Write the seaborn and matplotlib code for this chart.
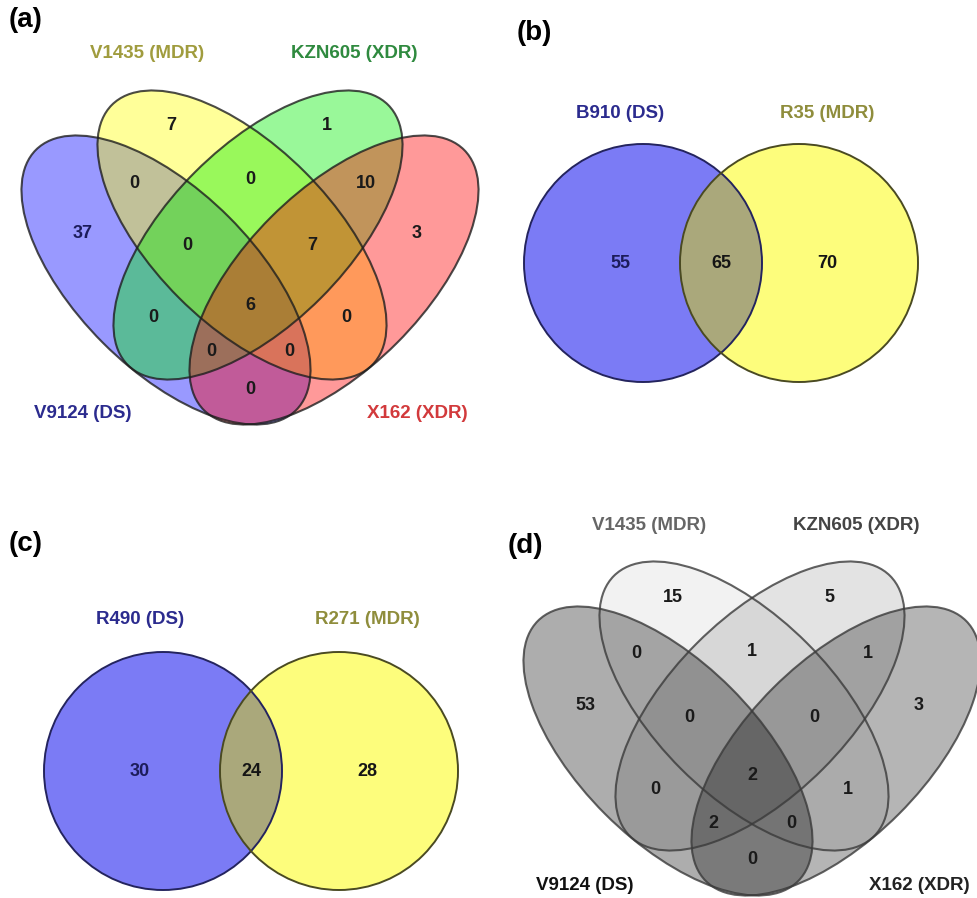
import matplotlib
matplotlib.use("Agg")
import matplotlib.pyplot as plt
from matplotlib.patches import Ellipse, Circle
import seaborn as sns

# ---- data -------------------------------------------------------------
# region keys for the 4-set diagrams: B=V9124, Y=V1435, G=KZN605, R=X162
quad_regions = ["B", "Y", "G", "R", "BY", "YG", "GR", "BYG", "YGR",
                "BYGR", "BG", "YR", "BGR", "BYR", "BR"]
quad_names = {"B": "V9124 (DS)", "Y": "V1435 (MDR)",
              "G": "KZN605 (XDR)", "R": "X162 (XDR)"}
quad_counts_a = [37, 7, 1, 3, 0, 0, 10, 0, 7, 6, 0, 0, 0, 0, 0]
quad_counts_d = [53, 15, 5, 3, 0, 1, 1, 0, 0, 2, 0, 1, 2, 0, 0]

# 2-set diagrams: [left only, both, right only]
pair_names_b = ["B910 (DS)", "R35 (MDR)"]
pair_counts_b = [55, 65, 70]
pair_names_c = ["R490 (DS)", "R271 (MDR)"]
pair_counts_c = [30, 24, 28]

# ---- layout (pixel space of the 977x898 figure) -----------------------
W, H = 977, 898
ELL_W, ELL_H = 368, 178
ell_geom = {"B": (166, 280, 45), "Y": (242, 235, 45),
            "G": (258, 235, -45), "R": (334, 280, -45)}
region_xy = {"B": (83, 234), "Y": (171, 126), "G": (327, 126), "R": (417, 234),
             "BY": (134, 183), "YG": (250, 180), "GR": (366, 183),
             "BYG": (187, 246), "YGR": (312, 246), "BYGR": (250, 305),
             "BG": (153, 318), "YR": (346, 318), "BGR": (211, 352),
             "BYR": (289, 352), "BR": (250, 389)}
name_xy = {"B": (83, 414), "Y": (147, 54), "G": (354, 54), "R": (417, 414)}

FONT = ["Liberation Sans", "DejaVu Sans"]


def draw_quad(ax, origin, counts, fills, alphas, name_colors, num_colors, edge):
    ox, oy = origin
    for key in ["B", "Y", "G", "R"]:
        cx, cy, ang = ell_geom[key]
        ax.add_patch(Ellipse((ox + cx, oy + cy), ELL_W, ELL_H, angle=ang,
                             facecolor=fills[key], alpha=alphas[key],
                             edgecolor="none"))
    for key in ["B", "Y", "G", "R"]:
        cx, cy, ang = ell_geom[key]
        ax.add_patch(Ellipse((ox + cx, oy + cy), ELL_W, ELL_H, angle=ang,
                             fill=False, edgecolor=edge, alpha=0.8,
                             linewidth=1.5))
    for reg, val in zip(quad_regions, counts):
        x, y = region_xy[reg]
        ax.text(ox + x, oy + y, str(val), ha="center", va="center",
                fontsize=13, fontweight="bold", family=FONT,
                color=num_colors.get(reg, "#1a1a1a"))
    for key, (x, y) in name_xy.items():
        ax.text(ox + x, oy + y, quad_names[key], ha="center", va="center",
                fontsize=13.5, fontweight="bold", family=FONT,
                color=name_colors[key])


def draw_pair(ax, centers, counts, names, name_y):
    (x1, y1), (x2, y2) = centers
    r = 119
    left = Circle((x1, y1), r, facecolor="#7b7bf5", edgecolor="none")
    right = Circle((x2, y2), r, facecolor="#fdfd7c", edgecolor="none")
    ax.add_patch(left)
    ax.add_patch(right)
    both = Circle((x1, y1), r, facecolor="#aaa87b", edgecolor="none")
    ax.add_patch(both)
    both.set_clip_path(right)
    ax.add_patch(Circle((x1, y1), r, fill=False, edgecolor="#24245e", linewidth=1.4))
    ax.add_patch(Circle((x2, y2), r, fill=False, edgecolor="#4a4a22", linewidth=1.4))
    xs = [x1 - 23, (x1 + x2) / 2, x2 + 28]
    cols = ["#1c1c5a", "#151515", "#151515"]
    for x, v, c in zip(xs, counts, cols):
        ax.text(x, y1, str(v), ha="center", va="center", fontsize=13,
                fontweight="bold", family=FONT, color=c)
    ax.text(xs[0], name_y, names[0], ha="center", va="center", fontsize=13.5,
            fontweight="bold", family=FONT, color="#2b2b8e")
    ax.text(xs[2], name_y, names[1], ha="center", va="center", fontsize=13.5,
            fontweight="bold", family=FONT, color="#8f8d3c")


sns.set_theme(style="white")
fig = plt.figure(figsize=(W / 100, H / 100), dpi=100)
ax = fig.add_axes([0, 0, 1, 1])
ax.set_xlim(0, W)
ax.set_ylim(H, 0)
ax.set_aspect("equal")
ax.axis("off")

# (a) coloured 4-set diagram
draw_quad(ax, (0, 0), quad_counts_a,
          fills={"B": "#0000ff", "Y": "#ffff00", "G": "#00ee00", "R": "#ff0000"},
          alphas={"B": 0.4, "Y": 0.4, "G": 0.4, "R": 0.4},
          name_colors={"B": "#2b2b8e", "Y": "#a09c3e", "G": "#2f8a3f", "R": "#d23a3c"},
          num_colors={"B": "#1c1c5a"}, edge="#1e1e1e")

# (b), (c) 2-set diagrams
draw_pair(ax, [(643, 263), (799, 263)], pair_counts_b, pair_names_b, 113)
draw_pair(ax, [(163, 771), (339, 771)], pair_counts_c, pair_names_c, 620)

# (d) grey 4-set diagram
draw_quad(ax, (502, 471), quad_counts_d,
          fills={"B": "#000000", "Y": "#000000", "G": "#000000", "R": "#000000"},
          alphas={"B": 0.32, "Y": 0.05, "G": 0.11, "R": 0.29},
          name_colors={"B": "#111111", "Y": "#666666", "G": "#444444", "R": "#222222"},
          num_colors={}, edge="#3a3a3a")

for lab, (x, y) in zip(["(a)", "(b)", "(c)", "(d)"],
                       [(26, 20), (534, 33), (26, 544), (525, 546)]):
    ax.text(x, y, lab, ha="center", va="center", fontsize=20,
            fontweight="bold", family=FONT, color="black")

fig.savefig("out.png", dpi=100)
